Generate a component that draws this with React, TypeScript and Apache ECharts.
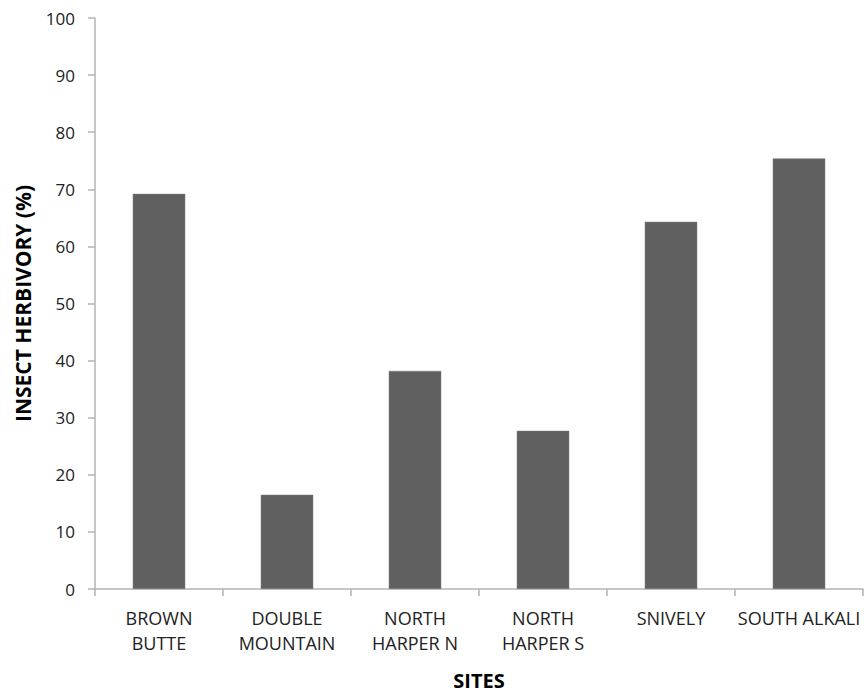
import React, { useEffect, useRef } from "react";
import * as echarts from "echarts";

const categories = ["BROWN BUTTE", "DOUBLE MOUNTAIN", "NORTH HARPER N", "NORTH HARPER S", "SNIVELY", "SOUTH ALKALI"];
const tickLabels = ["BROWN\nBUTTE", "DOUBLE\nMOUNTAIN", "NORTH\nHARPER N", "NORTH\nHARPER S", "SNIVELY", "SOUTH ALKALI"];
const herbivory = [69.2, 16.5, 38.2, 27.7, 64.3, 75.4];

export default function App() {
  const ref = useRef<HTMLDivElement>(null);
  useEffect(() => {
    if (!ref.current) return;
    const chart = echarts.init(ref.current, undefined, { renderer: "svg" });
    const font = "'Open Sans', 'Liberation Sans', sans-serif";
    chart.setOption({
      animation: false,
      backgroundColor: "#ffffff",
      grid: { left: 95, right: 3, top: 18, bottom: 105, containLabel: false, outerBoundsMode: "none" },
      xAxis: {
        type: "category",
        data: categories,
        name: "SITES",
        nameLocation: "middle",
        nameGap: 81,
        nameTextStyle: { fontFamily: font, fontWeight: "bold", fontSize: 20, color: "#000" },
        axisLine: { lineStyle: { color: "#b3b3b3", width: 1.5 } },
        axisTick: { show: true, length: 7, lineStyle: { color: "#b3b3b3", width: 1.5 } },
        axisLabel: {
          interval: 0,
          margin: 16,
          fontFamily: font,
          fontSize: 18,
          lineHeight: 25,
          color: "#222",
          formatter: (_v: string, i: number) => tickLabels[i],
        },
      },
      yAxis: {
        type: "value",
        min: 0,
        max: 100,
        interval: 10,
        name: "INSECT HERBIVORY (%)",
        nameLocation: "middle",
        nameGap: 62,
        nameTextStyle: { fontFamily: font, fontWeight: "bold", fontSize: 21, color: "#000" },
        axisLine: { show: true, lineStyle: { color: "#b3b3b3", width: 1.5 } },
        axisTick: { show: true, length: 7, lineStyle: { color: "#b3b3b3", width: 1.5 } },
        splitLine: { show: false },
        axisLabel: { margin: 20, fontFamily: font, fontSize: 17, color: "#222" },
      },
      series: [
        {
          type: "bar",
          data: herbivory,
          barWidth: "41%",
          itemStyle: { color: "#606060", borderColor: "#7a7a7a", borderWidth: 0.5 },
        },
      ],
    });
    return () => chart.dispose();
  }, []);
  return <div ref={ref} style={{ position: "fixed", left: 0, top: 0, width: 866, height: 694 }} />;
}
